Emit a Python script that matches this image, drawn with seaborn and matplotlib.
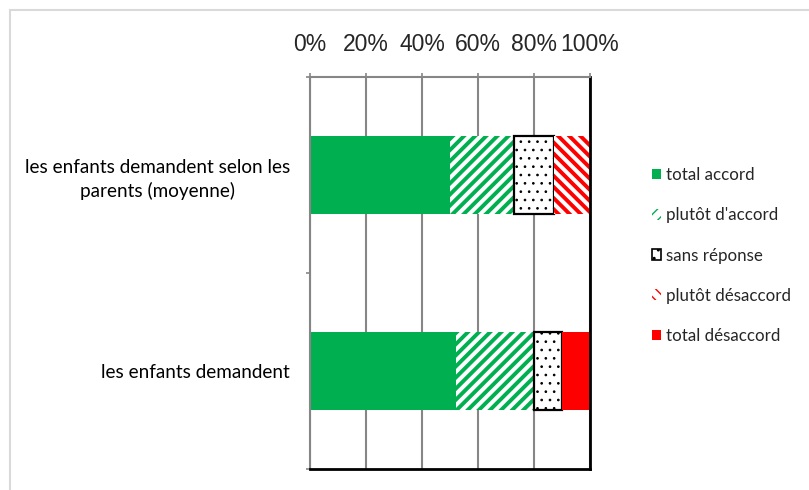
import numpy as np
import pandas as pd
import matplotlib.pyplot as plt
import seaborn as sns
from matplotlib.patches import Patch, Rectangle
from matplotlib.ticker import FixedLocator, PercentFormatter

# Data (percentages)
categories = ["les enfants demandent selon les\nparents (moyenne)", "les enfants demandent"]
series = ["total accord", "plutôt d'accord", "sans réponse", "plutôt désaccord", "total désaccord"]
total_accord = [50, 52]
plutot_accord = [23, 28]
sans_reponse = [14, 10]
plutot_desaccord = [13, 0]
total_desaccord = [0, 10]

GREEN = "#00b050"
RED = "#ff0000"
GRID = "#868686"

# look of each segment: face, edge (=hatch colour), hatch, edge width, hatch width
styles = {
    "total accord": dict(face=GREEN, edge=GREEN, hatch=None, lw=0, hlw=1.0),
    "plutôt d'accord": dict(face="white", edge=GREEN, hatch="///", lw=0, hlw=2.8),
    "sans réponse": dict(face="white", edge="black", hatch="..", lw=1.6, hlw=0.7),
    "plutôt désaccord": dict(face="white", edge=RED, hatch="\\\\\\", lw=0, hlw=2.8),
    "total désaccord": dict(face=RED, edge=RED, hatch=None, lw=0, hlw=1.0),
}

df = pd.DataFrame({
    "categorie": categories,
    "total accord": total_accord,
    "plutôt d'accord": plutot_accord,
    "sans réponse": sans_reponse,
    "plutôt désaccord": plutot_desaccord,
    "total désaccord": total_desaccord,
})

sns.set_style("white")
plt.rcParams["font.family"] = ["Lato", "DejaVu Sans"]

fig, ax = plt.subplots(figsize=(8.09, 4.90), dpi=100)
fig.subplots_adjust(left=310 / 809, right=590 / 809, top=1 - 77 / 490, bottom=1 - 469 / 490)

left = np.zeros(len(categories))
for name in series:
    st = styles[name]
    n_before = len(ax.patches)
    with plt.rc_context({"hatch.linewidth": st["hlw"]}):
        sns.barplot(data=df, x=name, y="categorie", order=categories, left=left,
                    width=0.4, color=st["face"], saturation=1, errorbar=None, ax=ax)
        for bar in ax.patches[n_before:]:
            bar.set_facecolor(st["face"])
            bar.set_edgecolor(st["edge"])
            bar.set_linewidth(st["lw"])
            if st["hatch"]:
                bar.set_hatch(st["hatch"])
                if hasattr(bar, "set_hatch_linewidth"):
                    bar.set_hatch_linewidth(st["hlw"])
    left = left + df[name].to_numpy()

# x axis on top, in percent
ax.set_xlim(0, 100)
ax.xaxis.tick_top()
ax.xaxis.set_major_locator(FixedLocator([0, 20, 40, 60, 80, 100]))
ax.xaxis.set_major_formatter(PercentFormatter(decimals=0))
ax.tick_params(axis="x", which="major", top=True, bottom=False, direction="out",
               length=3, width=1.2, color=GRID, pad=12, labelsize=16.5)
for t in ax.get_xticklabels():
    t.set_fontfamily(["Liberation Sans", "DejaVu Sans"])
ax.set_xlabel("")
ax.set_ylabel("")

# category axis
ax.set_ylim(1.5, -0.5)
ax.yaxis.set_minor_locator(FixedLocator([-0.5, 0.5, 1.5]))
ax.tick_params(axis="y", which="major", left=False, length=0, pad=14.5, labelsize=13.6, labelcolor="black")
ax.tick_params(axis="y", which="minor", left=True, direction="out", length=3, width=1.2, color=GRID)
for t in ax.get_yticklabels():
    t.set_multialignment("center")
    t.set_linespacing(1.4)

ax.grid(axis="x", color=GRID, linewidth=1.5)
ax.grid(axis="y", visible=False)
ax.set_axisbelow(True)

for side in ["left", "top"]:
    ax.spines[side].set_color(GRID)
    ax.spines[side].set_linewidth(1.5)
for side in ["right", "bottom"]:
    ax.spines[side].set_color("black")
    ax.spines[side].set_linewidth(2)
    ax.spines[side].set_visible(True)

# legend
handles = []
for name in series:
    st = styles[name]
    handles.append(Patch(facecolor=st["face"], edgecolor=st["edge"], hatch=st["hatch"],
                         linewidth=1.2 if name == "sans réponse" else 0))
fig.legend(handles, series, loc="center left", bbox_to_anchor=(652 / 809, 1 - 255.5 / 490),
           frameon=False, fontsize=12.2, handlelength=0.55, handleheight=0.55,
           handletextpad=0.3, labelspacing=1.42, borderpad=0, borderaxespad=0)

# outer chart frame
fig.add_artist(Rectangle((10 / 809, -1), 2, 2 - 10 / 490, transform=fig.transFigure,
                         fill=False, edgecolor="#d9d9d9", linewidth=1.5))

fig.savefig("out.png", dpi=100)
